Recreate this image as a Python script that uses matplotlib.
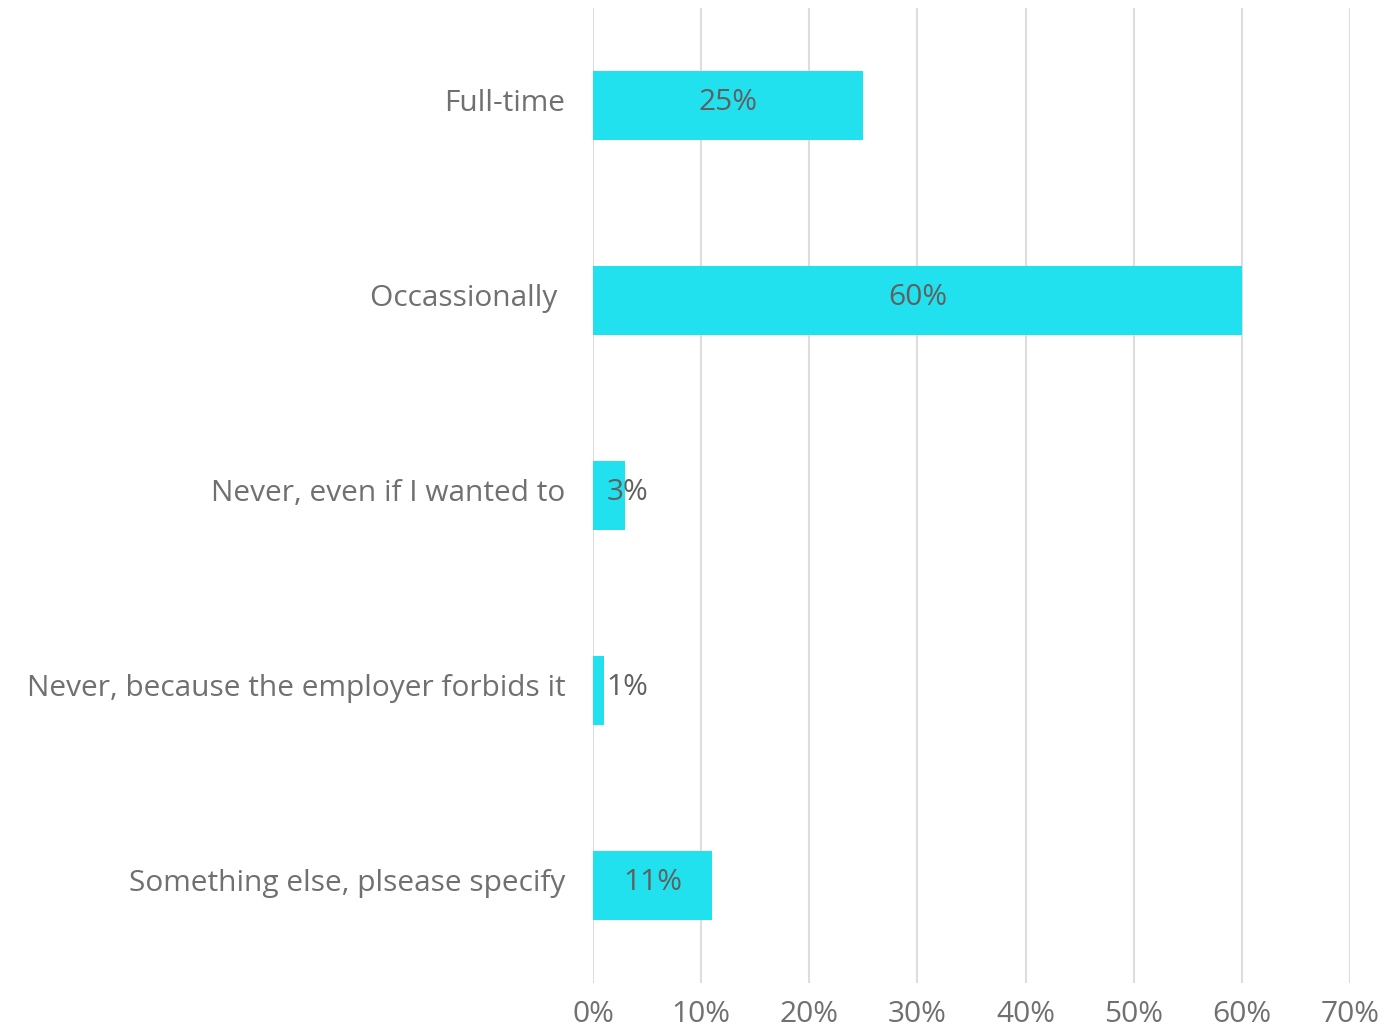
import matplotlib.pyplot as plt
from matplotlib.transforms import ScaledTranslation

categories = ['Full-time', 'Occassionally ', 'Never, even if I wanted to',
              'Never, because the employer forbids it', 'Something else, plsease specify']
values = [25, 60, 3, 1, 11]
xticks = [0, 10, 20, 30, 40, 50, 60, 70]

plt.rcParams['font.family'] = ['Open Sans', 'DejaVu Sans']

fig = plt.figure(figsize=(13.98, 10.31), dpi=100)
ax = fig.add_axes([0.4242, 0.0466, 0.9657 - 0.4242, 0.9456])

pos = list(range(len(categories)))
ax.barh(pos, values, height=0.35, color='#22E1EE', zorder=3)

# data labels, pushed out of the tiny bars
lift = ScaledTranslation(0, 2 / 72, fig.dpi_scale_trans)
for p, v in zip(pos, values):
    ax.text(max(v / 2, 3.2), p, f'{v}%', ha='center', va='center',
            fontsize=21.5, color='#606060', zorder=4,
            transform=ax.transData + lift)

ax.set_xlim(0, 70)
ax.set_ylim(len(categories) - 0.5, -0.5)
ax.set_xticks(xticks)
ax.set_xticklabels([f'{t}%' for t in xticks])
ax.set_yticks(pos)
ax.set_yticklabels(categories)
ax.tick_params(axis='x', length=0, pad=12, labelsize=21.5, labelcolor='#707070')
ax.tick_params(axis='y', length=0, pad=20, labelsize=21.5, labelcolor='#707070')
up = ScaledTranslation(0, 4 / 72, fig.dpi_scale_trans)
for lab in ax.get_yticklabels():
    lab.set_transform(lab.get_transform() + up)
ax.grid(axis='x', color='#DDDDDD', linewidth=1.5, zorder=0)
for s in ax.spines.values():
    s.set_visible(False)

plt.savefig('out.png')
